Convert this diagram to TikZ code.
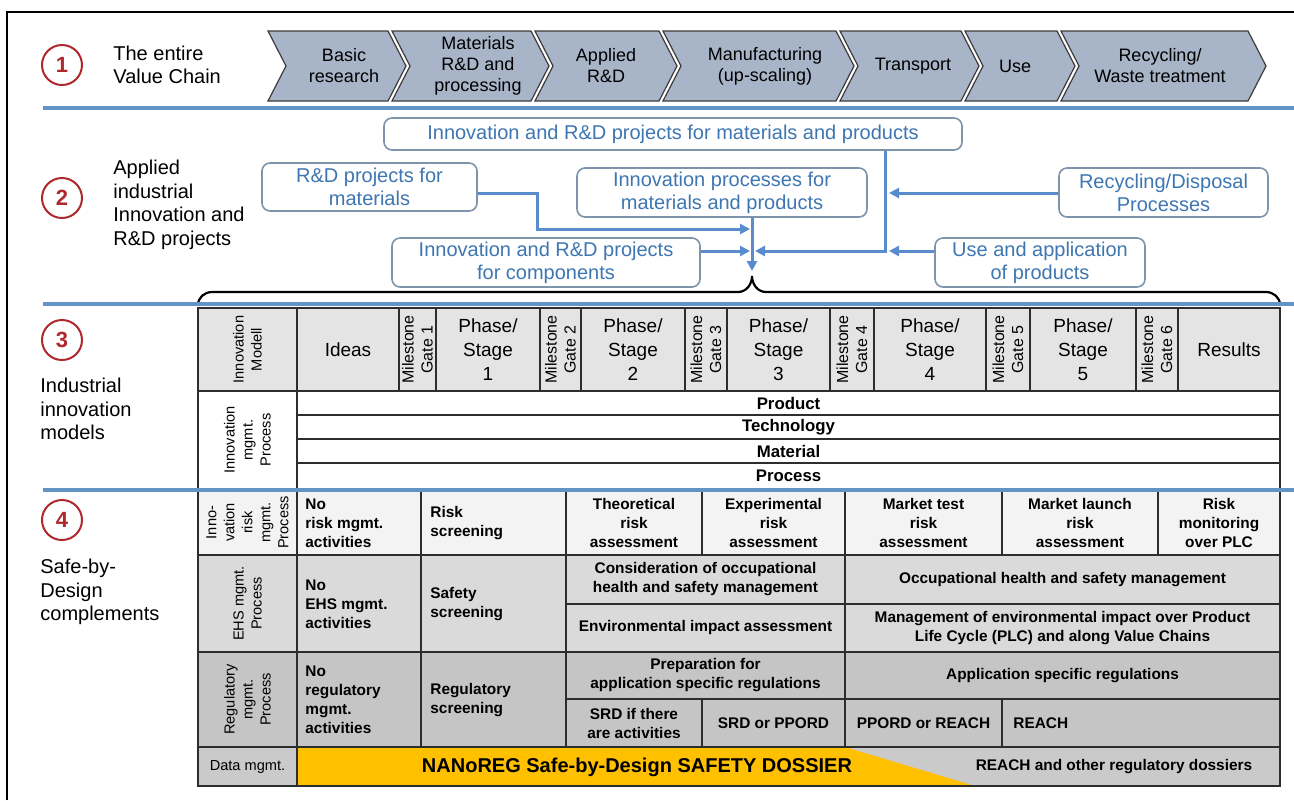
\documentclass[tikz,border=0pt]{standalone}
\usepackage{fontspec}
\setmainfont{Liberation Sans}
\usetikzlibrary{arrows.meta,calc}
\definecolor{sepblue}{RGB}{98,148,198}
\definecolor{connblue}{RGB}{88,140,205}
\definecolor{boxedge}{RGB}{125,148,172}
\definecolor{boxtext}{RGB}{62,118,178}
\definecolor{chevfill}{RGB}{168,180,200}
\definecolor{chevedge}{RGB}{60,60,60}
\definecolor{circred}{RGB}{175,40,45}
\definecolor{hdrgray}{RGB}{228,228,228}
\definecolor{riskgray}{RGB}{243,243,243}
\definecolor{ehsgray}{RGB}{218,218,218}
\definecolor{reggray}{RGB}{197,197,197}
\definecolor{datagray}{RGB}{202,202,202}
\definecolor{dossier}{RGB}{255,192,0}
\definecolor{tblline}{RGB}{45,45,45}
\newcommand\chevshape[5]{%
  \draw[chev] (#2,31) -- (#3,31) -- ({#3+18},66) -- (#3,101) -- (#2,101) -- ({#2+18},66) -- cycle;
  \node[chevtext] (#1) at (#4,66) {#5};}
\begin{document}
\begin{tikzpicture}[x=0.5pt,y=-0.5pt,
  numcirc/.style={circle, draw=circred, line width=1pt, minimum size=20pt, inner sep=0pt, font=\fontsize{11}{13}\selectfont\bfseries, text=circred},
  seclabel/.style={anchor=west, align=left, inner sep=0pt, font=\fontsize{10}{11.75}\selectfont},
  sep/.style={draw=sepblue, line width=2pt},
  chev/.style={fill=chevfill, draw=chevedge, line width=0.6pt},
  chevtext/.style={align=center, font=\fontsize{9}{10.5}\selectfont},
  proj/.style={draw=boxedge, line width=0.8pt, rounded corners=4pt, align=center, text=boxtext, font=\fontsize{10}{11.5}\selectfont, inner sep=0pt},
  conn/.style={draw=connblue, line width=1.5pt},
  arr/.style={-{Triangle[length=5pt,width=5pt]}},
  brace/.style={draw=black, line width=1.1pt},
  tbl/.style={draw=tblline, line width=0.8pt},
  rowline/.style={draw=tblline, line width=1.2pt},
  hdrtext/.style={align=center, font=\fontsize{9.5}{12}\selectfont},
  mstext/.style={rotate=90, align=center, font=\fontsize{8}{9.5}\selectfont},
  rowlab/.style={rotate=90, align=center, font=\fontsize{7.3}{9}\selectfont},
  rowbold/.style={font=\fontsize{8.4}{10}\selectfont\bfseries},
  celltext/.style={align=center, font=\fontsize{7.7}{9.5}\selectfont\bfseries},
  cellleft/.style={anchor=west, align=left, inner sep=0pt, font=\fontsize{7.7}{9.5}\selectfont\bfseries}
]
\useasboundingbox (0,0) rectangle (1294,800);
\fill[white] (0,0) rectangle (1294,800);
% frame
\draw[line width=1pt] (7,800) -- (7,12) -- (1294,12);

% ---------- Section 1
\node[numcirc] (c1) at (62,65) {1};
\node[seclabel] (s1) at (113,65) {The entire\\Value Chain};
\chevshape{v1}{268}{388}{344}{Basic\\research}
\chevshape{v2}{392}{531}{478}{Materials\\R\&D and\\processing}
\chevshape{v3}{535}{659}{606}{Applied\\R\&D}
\chevshape{v4}{663}{836}{765}{Manufacturing\\(up-scaling)}
\chevshape{v5}{840}{961}{913}{Transport}
\chevshape{v6}{965}{1057}{1015}{Use}
\chevshape{v7}{1061}{1248}{1160}{Recycling/\\Waste treatment}

% ---------- Section 2
\node[numcirc] (c2) at (62,198) {2};
\node[seclabel] (s2) at (113,205) {Applied\\industrial\\Innovation and\\R\&D projects};
\node[proj, minimum width=289pt, minimum height=16pt] (A) at (673,134) {Innovation and R\&D projects for materials and products};
\node[proj, minimum width=107.5pt, minimum height=24pt] (B) at (369.5,187) {R\&D projects for\\materials};
\node[proj, minimum width=145pt, minimum height=24.5pt] (C) at (722,192.5) {Innovation processes for\\materials and products};
\node[proj, minimum width=104.5pt, minimum height=24.5pt] (D) at (1163.5,192.5) {Recycling/Disposal\\Processes};
\node[proj, minimum width=154pt, minimum height=24.5pt] (E) at (546,262.5) {Innovation and R\&D projects\\for components};
\node[proj, minimum width=105pt, minimum height=24.5pt] (F) at (1040,262.5) {Use and application\\of products};

\coordinate (bj) at (537,193);
\coordinate (bt) at (750,229);
\coordinate (et) at (750,251);
\coordinate (vb) at (752,271);
\coordinate (aj) at (885,251);
\coordinate (atip) at (755,251);
\coordinate (ft) at (889,251);
\coordinate (dt) at (889,193);
\draw[conn,arr] (B.east |- bj) -- (bj) |- (bt);
\draw[conn,arr] (E.east |- et) -- (et);
\draw[conn,arr] (C.south -| vb) -- (vb);
\draw[conn,arr] (A.south -| aj) -- (aj) -- (atip);
\draw[conn,arr] (F.west |- ft) -- (ft);
\draw[conn,arr] (D.west |- dt) -- (dt);

% brace
\draw[brace] (198,305) to[out=90,in=180] (212,292) -- (738,292) to[out=0,in=-90] (752,276) to[out=-90,in=180] (766,292) -- (1266,292) to[out=0,in=90] (1280,305);

% ---------- Section 3
\node[numcirc] (c3) at (62,340) {3};
\node[seclabel] (s3) at (40,409) {Industrial\\innovation\\models};

\filldraw[tbl, fill=hdrgray] (198,308) rectangle (1280,391);
\foreach \cx in {297,399,436,540,581,685,727,830,874,986,1030,1136,1178}
  \draw[tbl] (\cx,308) -- (\cx,391);
\filldraw[tbl, fill=white] (198,391) rectangle (1280,489);
\draw[tbl] (297,391) -- (297,489);
\foreach \ry in {415,439,463}
  \draw[tbl] (297,\ry) -- (1280,\ry);

\node[rowlab] (h0) at (247.5,349.5) {Innovation\\Modell};
\node[hdrtext] (ideas) at (348,349.5) {Ideas};
\node[mstext] (g1) at (417.5,349.5) {Milestone\\Gate 1};
\node[hdrtext] (p1) at (488,349.5) {Phase/\\Stage\\1};
\node[mstext] (g2) at (560.5,349.5) {Milestone\\Gate 2};
\node[hdrtext] (p2) at (633,349.5) {Phase/\\Stage\\2};
\node[mstext] (g3) at (706,349.5) {Milestone\\Gate 3};
\node[hdrtext] (p3) at (778.5,349.5) {Phase/\\Stage\\3};
\node[mstext] (g4) at (852,349.5) {Milestone\\Gate 4};
\node[hdrtext] (p4) at (930,349.5) {Phase/\\Stage\\4};
\node[mstext] (g5) at (1008,349.5) {Milestone\\Gate 5};
\node[hdrtext] (p5) at (1083,349.5) {Phase/\\Stage\\5};
\node[mstext] (g6) at (1157,349.5) {Milestone\\Gate 6};
\node[hdrtext] (res) at (1229,349.5) {Results};

\node[rowlab] (lab3) at (247.5,440) {Innovation\\mgmt.\\Process};
\node[rowbold] (prod) at (788.5,403) {Product};
\node[rowbold] (tech) at (788.5,427) {Technology};
\node[rowbold] (mat) at (788.5,451) {Material};
\node[rowbold] (proc) at (788.5,476) {Process};

% ---------- Section 4
\node[numcirc] (c4) at (62,520) {4};
\node[seclabel] (s4) at (40,592) {Safe-by-\\Design\\complements};

% risk row
\filldraw[tbl, fill=riskgray] (198,490) rectangle (1280,555);
\foreach \cx in {297,421,566,702,845,1002,1158}
  \draw[tbl] (\cx,490) -- (\cx,555);
% EHS row
\filldraw[tbl, fill=ehsgray] (198,555) rectangle (1280,652);
\foreach \cx in {297,421,566,845}
  \draw[tbl] (\cx,555) -- (\cx,652);
\draw[tbl] (566,604) -- (1280,604);
% regulatory row
\filldraw[tbl, fill=reggray] (198,652) rectangle (1280,747);
\foreach \cx in {297,421,566,845}
  \draw[tbl] (\cx,652) -- (\cx,747);
\foreach \cx in {702,1002}
  \draw[tbl] (\cx,699) -- (\cx,747);
\draw[tbl] (566,699) -- (1280,699);
% data row
\filldraw[tbl, fill=datagray] (198,747) rectangle (1280,786);
\fill[dossier] (297,747) -- (845,747) -- (975,786) -- (297,786) -- cycle;
\draw[tbl] (297,747) -- (297,786);
\draw[tbl] (198,786) -- (1280,786) -- (1280,747);
\draw[rowline] (198,555) -- (1280,555);
\draw[rowline] (198,652) -- (1280,652);
\draw[rowline] (198,747) -- (1280,747);

\node[rowlab] (l41) at (247.5,522.5) {Inno-\\vation\\risk\\mgmt.\\Process};
\node[cellleft] (r1) at (305,523) {No\\risk mgmt.\\activities};
\node[cellleft] (r2) at (430,523) {Risk\\screening};
\node[celltext] (r3) at (634,523) {Theoretical\\risk\\assessment};
\node[celltext] (r4) at (773.5,523) {Experimental\\risk\\assessment};
\node[celltext] (r5) at (923.5,523) {Market test\\risk\\assessment};
\node[celltext] (r6) at (1080,523) {Market launch\\risk\\assessment};
\node[celltext] (r7) at (1219,523) {Risk\\monitoring\\over PLC};

\node[rowlab] (l42) at (247.5,603.5) {EHS mgmt.\\Process};
\node[cellleft] (e1) at (305,604) {No\\EHS mgmt.\\activities};
\node[cellleft] (e2) at (430,604) {Safety\\screening};
\node[celltext] (e3) at (705.5,579.5) {Consideration of occupational\\health and safety management};
\node[celltext] (e4) at (705.5,628) {Environmental impact assessment};
\node[celltext] (e5) at (1062.5,579.5) {Occupational health and safety management};
\node[celltext] (e6) at (1062.5,628) {Management of environmental impact over Product\\Life Cycle (PLC) and along Value Chains};

\node[rowlab] (l43) at (247.5,699.5) {Regulatory\\mgmt.\\Process};
\node[cellleft] (g41) at (305,700) {No\\regulatory\\mgmt.\\activities};
\node[cellleft] (g42) at (430,700) {Regulatory\\screening};
\node[celltext] (g43) at (705.5,675.5) {Preparation for\\application specific regulations};
\node[celltext] (g44) at (1062.5,675.5) {Application specific regulations};
\node[celltext] (g45) at (634,723) {SRD if there\\are activities};
\node[celltext] (g46) at (773.5,723) {SRD or PPORD};
\node[celltext] (g47) at (923.5,723) {PPORD or REACH};
\node[cellleft] (g48) at (1013,723) {REACH};

\node[font=\fontsize{7.3}{9}\selectfont] (d1) at (247.5,767) {Data mgmt.};
\node[font=\fontsize{10}{12}\selectfont\bfseries] (d2) at (637,767) {NANoREG Safe-by-Design SAFETY DOSSIER};
\node[celltext] (d3) at (1114,767) {REACH and other regulatory dossiers};

% separators
\draw[sep] (43,108) -- (1294,108);
\draw[sep] (43,304) -- (1294,304);
\draw[sep] (43,490) -- (1294,490);
\end{tikzpicture}
\end{document}
